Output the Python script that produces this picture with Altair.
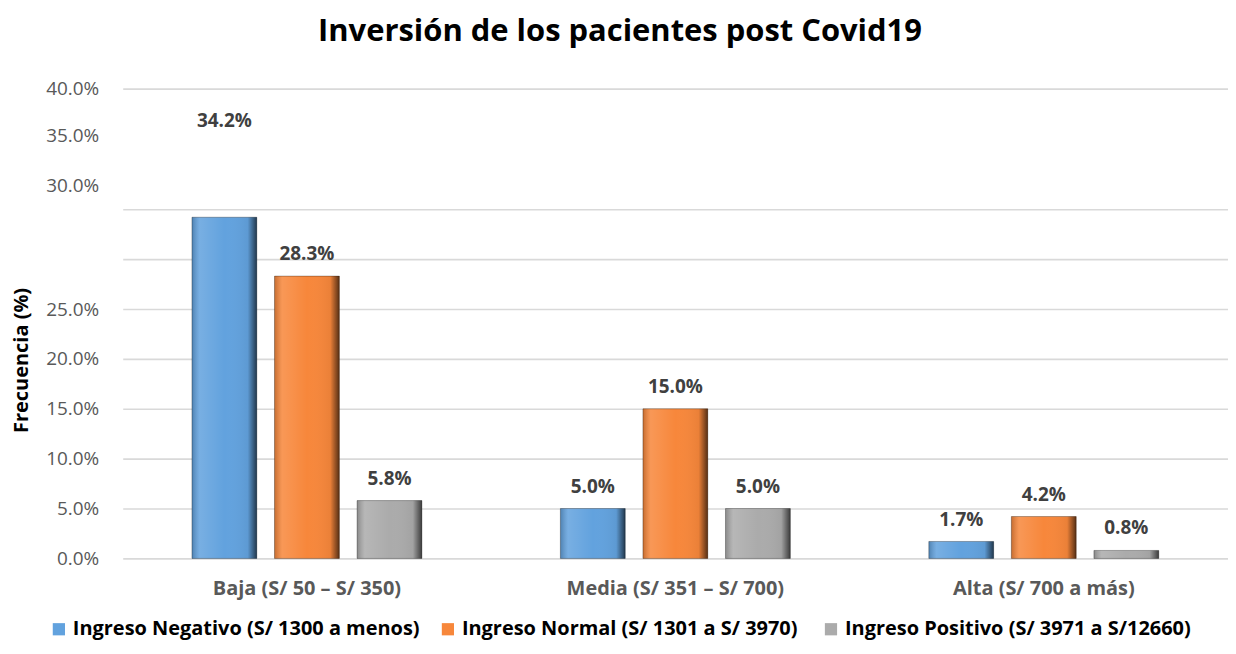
import altair as alt
import pandas as pd

categories = ["Baja (S/ 50 – S/ 350)", "Media (S/ 351 – S/ 700)", "Alta (S/ 700 a más)"]
series = [
    "Ingreso Negativo (S/ 1300 a menos)",
    "Ingreso Normal  (S/ 1301 a S/ 3970)",
    "Ingreso Positivo (S/ 3971 a S/12660)",
]
negativo = [34.2, 5.0, 1.7]
normal = [28.3, 15.0, 4.2]
positivo = [5.8, 5.0, 0.8]
colors = ["#62A2DE", "#F7873B", "#ABABAB"]

# axis as drawn in the reference (gridlines and shifted upper labels)
grid_values = [0, 5, 10, 15, 20, 25, 30, 35, 47.1]
label_values = [0, 5, 10, 15, 20, 25, 37.4, 42.4, 47.1]
label_texts = ["0.0%", "5.0%", "10.0%", "15.0%", "20.0%", "25.0%", "30.0%", "35.0%", "40.0%"]

rows = []
for s, vals in zip(series, [negativo, normal, positivo]):
    for c, v in zip(categories, vals):
        rows.append({"cat": c, "series": s, "value": v})
df = pd.DataFrame(rows)

FONT = "Open Sans"

label_map = "{" + ",".join(f"'{v}':'{t}'" for v, t in zip(label_values, label_texts)) + "}"
hidden = [v for v in grid_values if v not in label_values]
label_expr = f"indexof({hidden}, datum.value) >= 0 ? '' : {label_map}[''+datum.value]"
all_ticks = sorted(set(grid_values) | set(label_values))
grid_test = f"indexof({[v for v in label_values if v not in grid_values]}, datum.value) >= 0"

base = alt.Chart(df).encode(
    x=alt.X(
        "cat:N",
        sort=categories,
        scale=alt.Scale(paddingInner=0, paddingOuter=0),
        axis=alt.Axis(
            title=None,
            labelAngle=0,
            labelFont=FONT,
            labelFontSize=20,
            labelFontWeight="bold",
            labelColor="#595959",
            labelPadding=20,
            labelLimit=0,
            ticks=False,
            domain=False,
            grid=False,
        ),
    ),
    xOffset=alt.XOffset(
        "series:N", sort=series, scale=alt.Scale(paddingInner=0.217, paddingOuter=0.84)
    ),
    y=alt.Y(
        "value:Q",
        scale=alt.Scale(domain=[0, 47.1], nice=False),
        axis=alt.Axis(
            title="Frecuencia (%)",
            titleFont=FONT,
            titleFontSize=20,
            titleFontWeight="bold",
            titleColor="#000000",
            titleX=-101,
            titleY=272,
            titleAngle=-90,
            titleAlign="center",
            titleBaseline="middle",
            values=all_ticks,
            labelExpr=label_expr,
            labelFont=FONT,
            labelFontSize=19,
            labelColor="#595959",
            labelPadding=24,
            labelLimit=0,
            ticks=False,
            domain=False,
            grid=True,
            gridColor="#D9D9D9",
            gridWidth=1.6,
            gridOpacity={"condition": {"test": grid_test, "value": 0}, "value": 1},
        ),
    ),
)

bars = base.mark_bar(size=65).encode(
    color=alt.Color(
        "series:N",
        sort=series,
        scale=alt.Scale(domain=series, range=colors),
        legend=alt.Legend(
            title=None,
            orient="none",
            direction="horizontal",
            legendX=-74,
            legendY=532,
            labelFont=FONT,
            labelFontSize=20,
            labelFontWeight="bold",
            labelColor="#000000",
            labelLimit=0,
            symbolType="square",
            symbolSize=150,
            symbolStrokeWidth=0,
            symbolOffset=0,
            labelOffset=4,
            columnPadding=18,
        ),
    )
)

shade = base.mark_bar(
    size=65,
    color=alt.Gradient(
        gradient="linear",
        x1=0, x2=1, y1=0, y2=0,
        stops=[
            alt.GradientStop(offset=0, color="rgba(0,0,0,0.2)"),
            alt.GradientStop(offset=0.12, color="rgba(255,255,255,0.14)"),
            alt.GradientStop(offset=0.5, color="rgba(255,255,255,0.0)"),
            alt.GradientStop(offset=0.86, color="rgba(0,0,0,0.05)"),
            alt.GradientStop(offset=1, color="rgba(0,0,0,0.65)"),
        ],
    ),
    stroke="rgba(0,0,0,0.3)",
    strokeWidth=1,
)

text_base = base.transform_calculate(label="format(datum.value, '.1f') + '%'")
labels = text_base.transform_filter("datum.value < 30").mark_text(
    baseline="bottom", dy=-12, font=FONT, fontSize=19, fontWeight="bold", color="#404040"
).encode(text="label:N")
lifted = text_base.transform_filter("datum.value >= 30").mark_text(
    baseline="bottom", dy=-86, font=FONT, fontSize=19, fontWeight="bold", color="#404040"
).encode(text="label:N")

chart = (
    alt.layer(bars, shade, labels, lifted)
    .properties(
        width=1108,
        height=471,
        padding={"left": 4, "top": 7, "right": 0, "bottom": 0},
        title=alt.TitleParams(
            "Inversión de los pacientes post Covid19",
            font=FONT,
            fontSize=31,
            fontWeight="bold",
            color="#000000",
            anchor="middle",
            frame="bounds",
            offset=32,
        ),
    )
    .configure_view(stroke=None)
)

chart.save("out.html", embed_options={"renderer": "svg", "actions": False})
